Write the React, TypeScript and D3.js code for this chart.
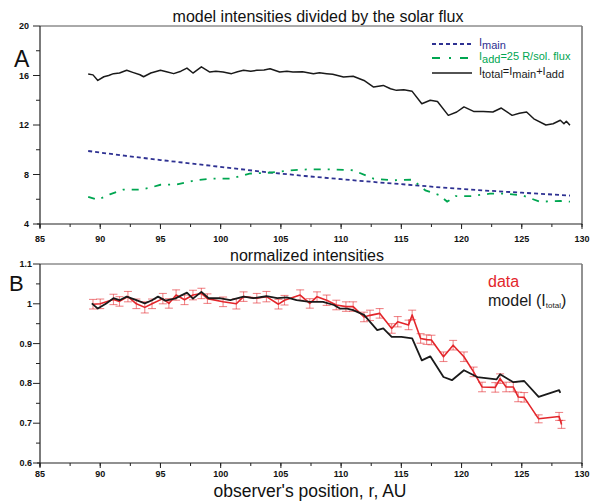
import React from "react";
import * as d3 from "d3";

// ---- Panel A: model intensities divided by the solar flux ----
const mainR = [89, 92, 95, 98, 101, 104, 107, 110, 113, 116, 119, 122, 125, 129];
const mainI = [9.9, 9.52, 9.17, 8.84, 8.5, 8.17, 7.88, 7.62, 7.37, 7.14, 6.9, 6.7, 6.53, 6.3];

const addR = [89.0, 89.8, 90.8, 91.9, 93.3, 94.2, 95.0, 96.35, 97.9, 99.1, 100.8, 102.4, 104.1, 105.8, 107.4, 109.2, 111.0, 112.7, 114.3, 115.9, 117.0, 118.2, 118.8, 119.5, 120.8, 122.35, 123.7, 125.1, 126.5, 128.2, 129.0];
const addI = [6.2, 5.95, 6.4, 6.77, 6.77, 6.95, 7.17, 7.2, 7.53, 7.66, 7.66, 8.07, 8.15, 8.34, 8.42, 8.42, 8.34, 7.66, 7.53, 7.58, 6.72, 6.32, 5.8, 6.26, 6.26, 6.45, 6.45, 6.3, 5.8, 5.86, 5.8];

const totalR = [89.0, 89.4, 89.8, 90.3, 90.7, 91.1, 91.6, 92.2, 92.7, 93.3, 93.6, 94.2, 95.0, 95.5, 96.1, 96.7, 97.2, 97.7, 98.4, 99.1, 99.6, 100.2, 100.9, 101.4, 101.9, 102.5, 103.0, 103.6, 104.1, 104.9, 105.5, 106.0, 106.8, 107.7, 108.2, 108.8, 109.3, 110.2, 111.0, 111.9, 112.7, 113.5, 114.1, 114.6, 115.2, 115.9, 116.7, 117.4, 118.0, 118.9, 119.6, 120.2, 121.0, 121.8, 122.6, 123.3, 124.2, 124.8, 125.4, 126.0, 127.0, 127.6, 128.2, 128.5, 128.7, 129.0];
const totalI = [16.12, 16.05, 15.6, 15.9, 16.0, 16.15, 16.2, 16.42, 16.25, 16.06, 15.9, 16.2, 16.42, 16.3, 16.15, 16.35, 16.6, 16.2, 16.7, 16.28, 16.35, 16.28, 16.15, 16.3, 16.42, 16.35, 16.42, 16.45, 16.55, 16.28, 16.35, 16.28, 16.3, 16.15, 16.22, 16.15, 16.1, 15.88, 15.94, 15.6, 15.07, 15.2, 14.93, 14.8, 14.85, 14.72, 13.72, 14.0, 13.9, 12.78, 13.05, 13.46, 13.1, 13.1, 13.05, 13.37, 12.78, 12.95, 13.05, 12.5, 12.0, 12.1, 12.38, 12.1, 12.3, 11.97];

// ---- Panel B: normalized intensities ----
const dataR = [89.4, 90.0, 91.1, 91.6, 92.3, 93.0, 93.7, 94.3, 95.2, 95.7, 96.3, 97.0, 97.7, 98.4, 98.9, 100.2, 101.3, 101.9, 103.0, 103.8, 104.8, 105.3, 106.6, 107.4, 108.0, 108.8, 109.6, 110.4, 111.0, 111.9, 112.4, 113.2, 114.2, 114.7, 115.6, 115.9, 116.6, 117.1, 117.5, 118.5, 119.3, 120.2, 121.0, 121.7, 122.8, 123.2, 123.7, 124.3, 124.7, 125.2, 126.4, 128.1, 128.3];
const dataI = [0.999, 1.0, 1.011, 1.006, 1.018, 1.0, 0.991, 1.0, 1.013, 1.001, 1.022, 1.01, 1.022, 1.026, 1.013, 1.005, 1.0, 1.018, 1.014, 1.018, 0.999, 1.009, 1.022, 1.001, 1.018, 1.009, 0.997, 0.993, 0.993, 0.967, 0.971, 0.976, 0.938, 0.955, 0.947, 0.972, 0.913, 0.91, 0.909, 0.867, 0.896, 0.867, 0.829, 0.791, 0.79, 0.812, 0.791, 0.791, 0.766, 0.765, 0.711, 0.717, 0.697];
const dataErr = [0.012, 0.012, 0.013, 0.012, 0.013, 0.012, 0.014, 0.012, 0.013, 0.012, 0.013, 0.012, 0.012, 0.013, 0.012, 0.012, 0.013, 0.012, 0.012, 0.013, 0.012, 0.012, 0.013, 0.012, 0.012, 0.013, 0.012, 0.012, 0.012, 0.012, 0.013, 0.012, 0.012, 0.013, 0.012, 0.012, 0.012, 0.012, 0.012, 0.012, 0.012, 0.012, 0.012, 0.012, 0.012, 0.012, 0.012, 0.012, 0.012, 0.012, 0.01, 0.01, 0.01];

const modelR = [89.3, 89.8, 90.5, 91.1, 91.6, 92.2, 93.0, 93.7, 94.3, 94.8, 95.4, 96.2, 97.2, 97.7, 98.4, 99.0, 99.9, 100.8, 101.9, 102.7, 103.8, 104.7, 105.5, 106.3, 107.4, 108.5, 109.4, 109.9, 110.5, 111.0, 111.9, 113.0, 113.5, 114.2, 115.0, 115.9, 116.7, 117.4, 118.5, 119.2, 120.2, 121.3, 122.9, 123.2, 124.3, 125.2, 126.4, 128.1, 128.2];
const modelI = [1.001, 0.988, 1.001, 1.014, 1.009, 1.018, 1.009, 1.001, 1.009, 1.018, 1.008, 1.013, 1.028, 1.013, 1.03, 1.014, 1.014, 1.009, 1.018, 1.014, 1.019, 1.014, 1.016, 1.009, 1.005, 1.005, 0.997, 0.988, 0.988, 0.984, 0.972, 0.934, 0.938, 0.917, 0.917, 0.913, 0.858, 0.868, 0.816, 0.808, 0.833, 0.816, 0.81, 0.823, 0.803, 0.806, 0.766, 0.783, 0.776];

const xTicks = [85, 90, 95, 100, 105, 110, 115, 120, 125, 130];
const topTicks = [4, 8, 12, 16, 20];
const botTicks = [0.6, 0.7, 0.8, 0.9, 1, 1.1];

const FONT = "'Liberation Sans', Arial, Helvetica, sans-serif";
const NAVY = "#2e3192";
const GREEN = "#00a651";
const RED = "#e3262b";
const BLACK = "#1a1a1a";

const X0 = 40;
const X1 = 582;

const x = d3.scaleLinear().domain([85, 130]).range([X0, X1]);
const yA = d3.scaleLinear().domain([4, 20]).range([224, 26]);
const yB = d3.scaleLinear().domain([0.6, 1.1]).range([463, 264]);

type Pt = [number, number];
const zip = (a: number[], b: number[]): Pt[] => a.map((v, i) => [v, b[i]]);

function Axes({ y, ticks, minor, labelGap, xLabelDy }: { y: d3.ScaleLinear<number, number>; ticks: number[]; minor: number[]; labelGap: number; xLabelDy: number }) {
  const [yb, yt] = y.range();
  const xMinor = d3.range(85, 130.01, 2.5);
  return (
    <g>
      {/* frame: top and right in grey */}
      <line x1={X0} x2={X1} y1={yt} y2={yt} stroke="#555" strokeWidth={1} />
      <line x1={X1} x2={X1} y1={yt} y2={yb + 1} stroke="#777" strokeWidth={1.6} />
      {/* left axis */}
      <line x1={X0} x2={X0} y1={yt} y2={yb + 4} stroke="#222" strokeWidth={1.2} />
      {minor.map((v) => (
        <line key={"ym" + v} x1={X0 - 4} x2={X0} y1={y(v)} y2={y(v)} stroke="#222" strokeWidth={1} />
      ))}
      {ticks.map((v) => (
        <g key={"y" + v}>
          <line x1={X0 - 7} x2={X0} y1={y(v)} y2={y(v)} stroke="#222" strokeWidth={1} />
          <text x={X0 - labelGap} y={y(v) + 3} textAnchor="end" fontFamily={FONT} fontWeight="bold" fontSize={9} fill="#111">
            {String(v)}
          </text>
        </g>
      ))}
      {/* bottom axis */}
      <line x1={X0 - 3} x2={X1} y1={yb} y2={yb} stroke="#222" strokeWidth={1.2} />
      {xMinor.map((v) => (
        <line key={"xm" + v} x1={x(v)} x2={x(v)} y1={yb} y2={yb + 3} stroke="#222" strokeWidth={1} />
      ))}
      {xTicks.map((v) => (
        <g key={"x" + v}>
          <line x1={x(v)} x2={x(v)} y1={yb} y2={yb + 5} stroke="#222" strokeWidth={1} />
          <text x={x(v)} y={yb + xLabelDy} textAnchor="middle" fontFamily={FONT} fontWeight="bold" fontSize={9} fill="#111">
            {v}
          </text>
        </g>
      ))}
    </g>
  );
}

export default function App() {
  const lineA = d3.line<Pt>().x((d) => x(d[0])).y((d) => yA(d[1]));
  const lineB = d3.line<Pt>().x((d) => x(d[0])).y((d) => yB(d[1]));
  const dataPts = zip(dataR, dataI);

  return (
    <svg width={614} height={502} style={{ position: "absolute", left: 0, top: 0, background: "#fff" }}>
      <rect width={614} height={502} fill="#fff" />

      {/* ---------- Panel A ---------- */}
      <text x={318} y={22} textAnchor="middle" fontFamily={FONT} fontSize={16} fill="#111">
        model intensities divided by the solar flux
      </text>
      <Axes y={yA} ticks={topTicks} minor={[6, 10, 14, 18]} labelGap={11} xLabelDy={18} />
      <text x={14} y={67} fontFamily={FONT} fontSize={23} fill="#111">A</text>

      <path d={lineA(zip(mainR, mainI)) || ""} fill="none" stroke={NAVY} strokeWidth={1.8} strokeDasharray="4,3" />
      <path d={lineA(zip(addR, addI)) || ""} fill="none" stroke={GREEN} strokeWidth={1.8} strokeDasharray="7,7,2,7" />
      <path d={lineA(zip(totalR, totalI)) || ""} fill="none" stroke={BLACK} strokeWidth={1.5} strokeLinejoin="round" />

      {/* legend A */}
      <g fontFamily={FONT} fontSize={11}>
        <line x1={432} x2={472} y1={44} y2={44} stroke={NAVY} strokeWidth={1.8} strokeDasharray="4,3" />
        <text x={479} y={46} fill={NAVY}>
          I<tspan dy={3}>main</tspan>
        </text>
        <line x1={432} x2={472} y1={58} y2={58} stroke={GREEN} strokeWidth={2} strokeDasharray="8,9,2,9" />
        <text x={479} y={60} fill={GREEN}>
          I<tspan dy={3}>add</tspan><tspan dy={-3}>=25 R/sol. flux</tspan>
        </text>
        <line x1={432} x2={472} y1={73} y2={73} stroke={BLACK} strokeWidth={1.6} />
        <text x={479} y={75} fill={BLACK}>
          I<tspan dy={3}>total</tspan><tspan dy={-3}>=I</tspan><tspan dy={3}>main</tspan><tspan dy={-3}>+I</tspan><tspan dy={3}>add</tspan>
        </text>
      </g>

      {/* ---------- Panel B ---------- */}
      <text x={307} y={261} textAnchor="middle" fontFamily={FONT} fontSize={16} fill="#111">
        normalized intensities
      </text>
      <Axes y={yB} ticks={botTicks} minor={[0.65, 0.75, 0.85, 0.95, 1.05]} labelGap={8} xLabelDy={14} />
      <text x={9} y={291} fontFamily={FONT} fontSize={22} fill="#111">B</text>

      {/* error bars */}
      <g stroke={RED} strokeOpacity={0.55} strokeWidth={1.1}>
        {dataPts.map((d, i) => {
          const cx = x(d[0]);
          const lo = yB(d[1] - dataErr[i]);
          const hi = yB(d[1] + dataErr[i]);
          return (
            <g key={"e" + i}>
              <line x1={cx} x2={cx} y1={lo} y2={hi} />
              <line x1={cx - 4} x2={cx + 4} y1={lo} y2={lo} />
              <line x1={cx - 4} x2={cx + 4} y1={hi} y2={hi} />
            </g>
          );
        })}
      </g>
      <path d={lineB(dataPts) || ""} fill="none" stroke={RED} strokeWidth={1.6} strokeLinejoin="round" />
      <path d={lineB(zip(modelR, modelI)) || ""} fill="none" stroke={BLACK} strokeWidth={1.8} strokeLinejoin="round" />

      {/* legend B */}
      <g fontFamily={FONT} fontSize={16}>
        <text x={488} y={287} fill={RED}>data</text>
        <text x={488} y={306} fill={BLACK}>
          model (I<tspan fontSize={8} dy={2}>total</tspan><tspan dy={-2}>)</tspan>
        </text>
      </g>

      <text x={310} y={497} textAnchor="middle" fontFamily={FONT} fontSize={17.5} fill="#111">
        observer's position, r, AU
      </text>
    </svg>
  );
}
